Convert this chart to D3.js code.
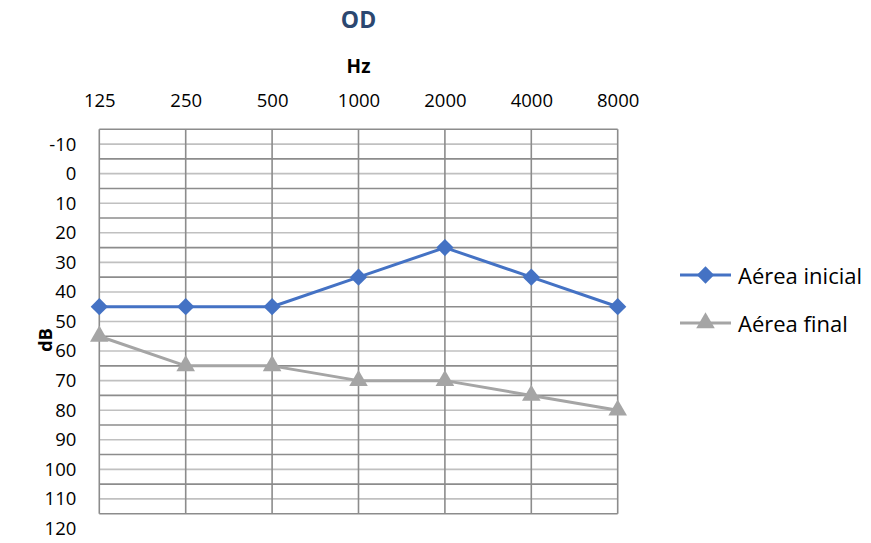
<!DOCTYPE html>
<html>
<head>
<meta charset="utf-8">
<script src="https://cdn.jsdelivr.net/npm/d3@7"></script>
<style>
  html, body { margin: 0; padding: 0; background: #fff; }
  svg { display: block; font-family: "Open Sans", Lato, sans-serif; }
</style>
</head>
<body>
<svg id="chart" width="871" height="543"></svg>
<script>
// Audiogram, right ear (OD)
const frequencies = ["125", "250", "500", "1000", "2000", "4000", "8000"];
const yTickLabels = [-10, 0, 10, 20, 30, 40, 50, 60, 70, 80, 90, 100, 110, 120];
const initialAir = [45, 45, 45, 35, 25, 35, 45];   // Aérea inicial
const finalAir   = [55, 65, 65, 70, 70, 75, 80];   // Aérea final
const seriesNames = ["Aérea inicial", "Aérea final"];

const svg = d3.select("#chart");
const plot = { left: 99.3, right: 617.7, top: 129.3, bottom: 513.7 };

const x = d3.scalePoint().domain(frequencies).range([plot.left, plot.right]).padding(0);
const y = d3.scaleLinear().domain([-15, 115]).range([plot.top, plot.bottom]);

const darkGrid = "#8c8c8c", lightGrid = "#c0c0c0";
const blue = "#4472C4", gray = "#A5A5A5";
const tickFont = 18.5;

// horizontal grid: every 5 dB, alternating dark / light
const gridVals = d3.range(-15, 116, 5);
svg.append("g").selectAll("line").data(gridVals).join("line")
  .attr("x1", plot.left).attr("x2", plot.right)
  .attr("y1", d => y(d)).attr("y2", d => y(d))
  .attr("stroke", d => ((d + 15) % 10 === 0) ? darkGrid : lightGrid)
  .attr("stroke-width", 1.6);

// vertical grid at every frequency
svg.append("g").selectAll("line").data(frequencies).join("line")
  .attr("x1", d => x(d)).attr("x2", d => x(d))
  .attr("y1", plot.top).attr("y2", plot.bottom)
  .attr("stroke", darkGrid).attr("stroke-width", 1.6);

// frequency labels along the top
const xAxis = d3.axisTop(x).tickSize(0).tickPadding(0);
const gx = svg.append("g").attr("transform", `translate(0,${plot.top - 29})`).call(xAxis);
gx.select(".domain").remove();
gx.selectAll("text").attr("font-size", tickFont).attr("fill", "#000")
  .attr("font-family", "'Open Sans', sans-serif").attr("dy", "0.35em").attr("y", 0);

// dB labels on the left
const yAxis = d3.axisLeft(y).tickValues(yTickLabels).tickFormat(d => String(d))
  .tickSize(0).tickPadding(0);
const gy = svg.append("g").attr("transform", `translate(${plot.left - 23},0)`).call(yAxis);
gy.select(".domain").remove();
gy.selectAll("text").attr("font-size", tickFont).attr("fill", "#000")
  .attr("font-family", "'Open Sans', sans-serif").attr("x", 0);

// titles
svg.append("text").attr("x", (plot.left + plot.right) / 2).attr("y", 19)
  .attr("text-anchor", "middle").attr("dominant-baseline", "central")
  .attr("font-size", 23).attr("font-weight", "bold").attr("fill", "#2B4770")
  .text("OD");
svg.append("text").attr("x", (plot.left + plot.right) / 2).attr("y", 66)
  .attr("text-anchor", "middle").attr("dominant-baseline", "central")
  .attr("font-size", 19).attr("font-weight", "bold").attr("fill", "#000")
  .text("Hz");
svg.append("text").attr("transform", "translate(45,340) rotate(-90)")
  .attr("text-anchor", "middle").attr("dominant-baseline", "central")
  .attr("font-size", 18).attr("font-weight", "bold").attr("fill", "#000")
  .text("dB");

// markers
const diamond = d3.symbol().type(d3.symbolDiamond2).size(190);
const triangle = d3.symbol().type(d3.symbolTriangle).size(150);

const line = d3.line().x((d, i) => x(frequencies[i])).y(d => y(d));

function drawSeries(values, color, symbolGen) {
  svg.append("path").datum(values).attr("d", line)
    .attr("fill", "none").attr("stroke", color).attr("stroke-width", 3)
    .attr("stroke-linejoin", "round");
  svg.append("g").selectAll("path").data(values).join("path")
    .attr("d", symbolGen)
    .attr("transform", (d, i) => `translate(${x(frequencies[i])},${y(d)})`)
    .attr("fill", color);
}
drawSeries(finalAir, gray, triangle);
drawSeries(initialAir, blue, diamond);

// legend
const legend = [
  { name: seriesNames[0], color: blue, sym: diamond, cy: 275 },
  { name: seriesNames[1], color: gray, sym: triangle, cy: 323 }
];
const lg = svg.append("g").selectAll("g").data(legend).join("g")
  .attr("transform", d => `translate(0,${d.cy})`);
lg.append("line").attr("x1", 680).attr("x2", 731).attr("y1", 0).attr("y2", 0)
  .attr("stroke", d => d.color).attr("stroke-width", 3);
lg.append("path").attr("d", d => d.sym()).attr("transform", "translate(705.5,0)")
  .attr("fill", d => d.color);
lg.append("text").attr("x", 738).attr("y", 0).attr("dominant-baseline", "central")
  .attr("font-size", 22).attr("fill", "#000").text(d => d.name);
</script>
</body>
</html>
